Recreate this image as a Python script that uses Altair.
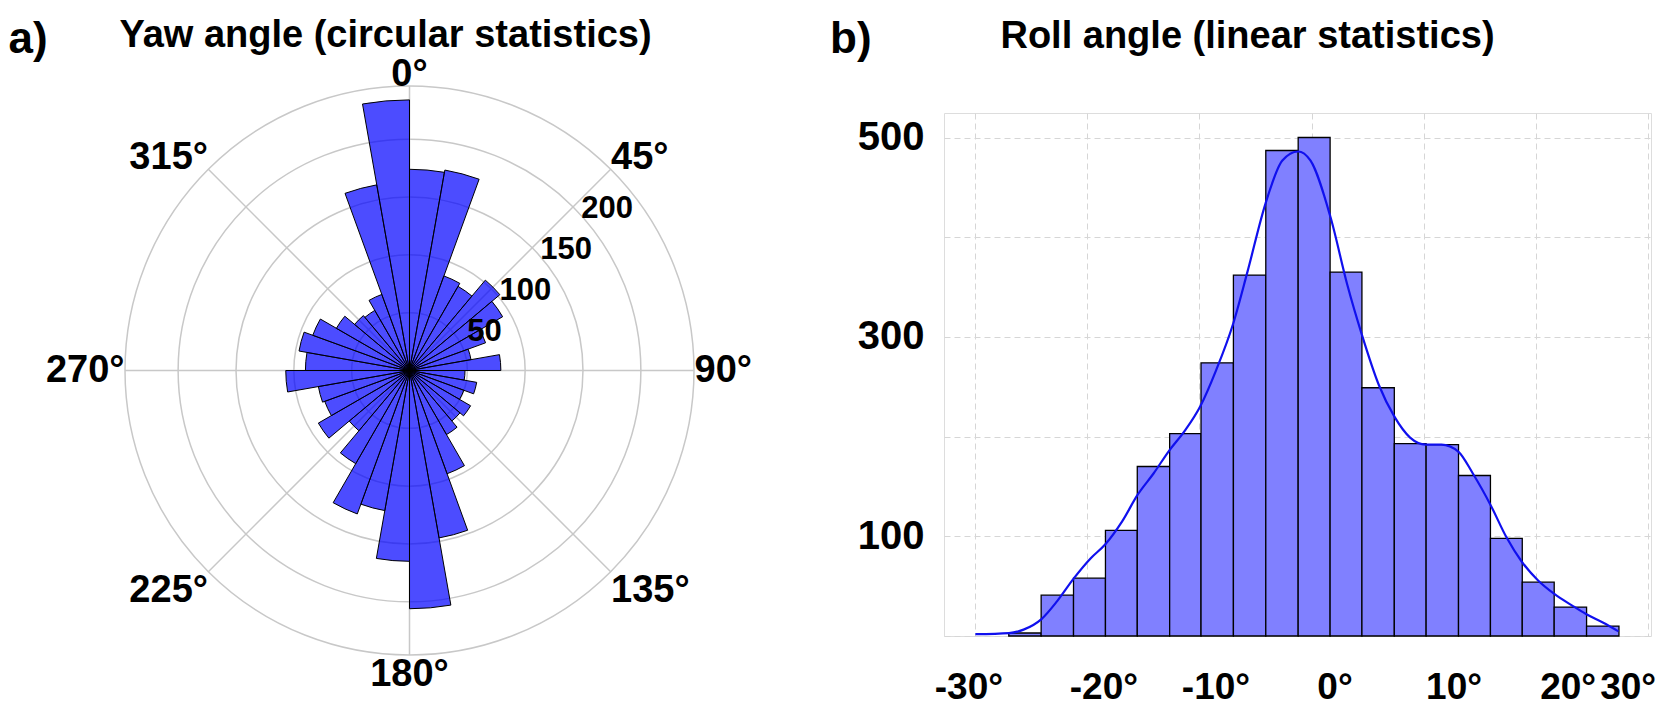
import math
import altair as alt
import pandas as pd

# ---------------- data: yaw angle (polar histogram, 10-degree bins) ----------------
YAW_BIN_START = [0, 10, 20, 30, 40, 50, 60, 70, 80,
                 90, 100, 110, 120, 130, 140, 150, 160, 170,
                 180, 190, 200, 210, 220, 230, 240, 250, 260,
                 270, 280, 290, 300, 310, 320, 330, 340, 350]
YAW_COUNTS = [174, 176, 87, 84, 102, 93, 70, 54, 79,
              48, 59, 50, 61, 57, 64, 95, 147, 206,
              165, 123, 132, 93, 68, 91, 78, 80, 107,
              90, 97, 89, 73, 62, 60, 70, 163, 234]
YAW_BIN_WIDTH = 10
RING_VALUES = [50, 100, 150, 200]
R_MAX = 246
ANGLE_TICKS = [0, 45, 90, 135, 180, 225, 270, 315]
ANGLE_LABELS = ["0°", "45°", "90°", "135°", "180°", "225°", "270°", "315°"]

# ---------------- data: roll angle (linear histogram + KDE) ----------------
ROLL_BIN_LO = [-27.02, -24.13, -21.24, -18.39, -15.55, -12.66, -9.86, -6.97, -4.08,
               -1.19, 1.66, 4.50, 7.39, 10.23, 13.12, 15.97, 18.81, 21.66, 24.55]
ROLL_BIN_HI = [-24.13, -21.24, -18.39, -15.55, -12.66, -9.86, -6.97, -4.08, -1.19,
               1.66, 4.50, 7.39, 10.23, 13.12, 15.97, 18.81, 21.66, 24.55, 27.44]
ROLL_COUNTS = [3, 41, 58, 106, 170, 203, 274, 362, 487,
               500, 365, 249, 193, 192, 161, 98, 54, 29, 10]
KDE_DEG = [-30.0, -27.0, -25.7, -24.1, -22.7, -21.2, -19.7, -18.4, -16.9, -15.5,
           -14.1, -12.7, -11.3, -9.9, -8.5, -7.0, -5.7, -4.1, -2.6, -1.2,
           -0.1, 1.7, 3.2, 4.5, 6.0, 7.4, 8.8, 10.2, 11.6, 13.1,
           14.4, 16.0, 17.4, 18.8, 20.2, 21.7, 23.2, 24.5, 26.0, 27.4]
KDE_VAL = [1.8, 2.9, 6.4, 17, 35, 58, 78, 92, 115, 142,
           163, 186, 206, 231, 267, 313, 366, 434, 477, 486,
           477, 420, 352, 302, 252, 220, 199, 192, 192, 185,
           163, 131, 99, 74, 56, 42, 31, 22, 13.5, 4.6]
ROLL_TICKS = [-30, -20, -10, 0, 10, 20, 30]
COUNT_GRID = [0, 100, 200, 300, 400, 500]

TITLE_A = "Yaw angle (circular statistics)"
TITLE_B = "Roll angle (linear statistics)"
LETTER_A = "a)"
LETTER_B = "b)"

# ---------------- layout / style constants ----------------
FONT = "Liberation Sans"
PLOT_W, PLOT_H = 707, 523
PAD = {"left": 936, "top": 105, "right": 6, "bottom": 77}
CX, CY = -534.5, 257.5          # polar centre relative to histogram plot origin
POLAR_R = 284.5
GRID_GRAY = "#c8c8c8"
# horizontal nudges of the roll-axis labels, as placed in the original figure
X_LABEL_NUDGE = {-30: -7, -20: 16, -10: 16, 0: 23, 10: 30, 20: 32, 30: 8}

theta_scale = alt.Scale(domain=[0, 360], range=[0, 2 * math.pi])
r_scale = alt.Scale(type="linear", domain=[0, R_MAX], range=[0, POLAR_R], zero=True, nice=False)

# ---------------- polar panel ----------------
rings_df = pd.DataFrame({"r": RING_VALUES + [R_MAX]})
rings_df["t0"] = 0
rings_df["t1"] = 360
rings = alt.Chart(rings_df).mark_arc(fill="white", fillOpacity=0, stroke=GRID_GRAY, strokeWidth=1.5).encode(
    theta=alt.Theta("t0:Q", scale=theta_scale),
    theta2="t1:Q",
    radius=alt.Radius("r:Q", scale=r_scale),
    x=alt.value(CX), y=alt.value(CY),
)

spokes_df = pd.DataFrame({"a": ANGLE_TICKS})
spokes_df["a2"] = spokes_df["a"]
spokes_df["r"] = R_MAX
spokes = alt.Chart(spokes_df).mark_arc(fill="white", fillOpacity=0, stroke=GRID_GRAY, strokeWidth=1.5).encode(
    theta=alt.Theta("a:Q", scale=theta_scale),
    theta2="a2:Q",
    radius=alt.Radius("r:Q", scale=r_scale),
    x=alt.value(CX), y=alt.value(CY),
)

yaw_df = pd.DataFrame({"t0": YAW_BIN_START, "n": YAW_COUNTS})
yaw_df["t1"] = yaw_df["t0"] + YAW_BIN_WIDTH
yaw_bars = alt.Chart(yaw_df).mark_arc(fill="#0000ff", fillOpacity=0.7, stroke="black", strokeWidth=1).encode(
    theta=alt.Theta("t0:Q", scale=theta_scale),
    theta2="t1:Q",
    radius=alt.Radius("n:Q", scale=r_scale),
    x=alt.value(CX), y=alt.value(CY),
)

ring_lab_df = pd.DataFrame({"r": RING_VALUES, "label": [str(v) for v in RING_VALUES]})
ring_lab_df["t"] = 45
ring_labels = alt.Chart(ring_lab_df).mark_text(
    font=FONT, fontSize=31, fontWeight="bold", color="black", align="center", baseline="middle", dx=34, dy=2
).encode(
    theta=alt.Theta("t:Q", scale=theta_scale),
    radius=alt.Radius("r:Q", scale=r_scale),
    text="label:N",
    x=alt.value(CX), y=alt.value(CY),
)

angle_layers = []
for ang, lab in zip(ANGLE_TICKS, ANGLE_LABELS):
    s, c = math.sin(math.radians(ang)), math.cos(math.radians(ang))
    align = "left" if s > 0.3 else ("right" if s < -0.3 else "center")
    baseline = "alphabetic" if c > 0.3 else ("top" if c < -0.3 else "middle")
    d = pd.DataFrame({"t": [ang], "label": [lab]})
    angle_layers.append(
        alt.Chart(d).mark_text(font=FONT, fontSize=38, fontWeight="bold", color="black",
                               align=align, baseline=baseline).encode(
            theta=alt.Theta("t:Q", scale=theta_scale),
            radius=alt.value(285),
            text="label:N",
            x=alt.value(CX), y=alt.value(CY),
        )
    )

# ---------------- roll histogram panel ----------------
xs = alt.Scale(domain=[-32.8, 30.3], nice=False, zero=False)
ys = alt.Scale(domain=[0, 524.6], nice=False, zero=True)

x_axis = alt.Axis(
    values=ROLL_TICKS, labelExpr="datum.value + '°'", title=None,
    grid=True, gridDash=[6, 4], gridColor="#d6d6d6", gridWidth=1,
    ticks=False, domain=False, labelFont=FONT, labelFontSize=37, labelFontWeight="bold",
    labelColor="black", labelPadding=33, labelOverlap=False,
    labelAlign={"condition": {"test": "datum.value == 30", "value": "right"}, "value": "center"},
    labelOffset={
        "condition": [{"test": f"datum.value == {k}", "value": v} for k, v in X_LABEL_NUDGE.items()],
        "value": 0,
    },
)
y_axis = alt.Axis(
    values=COUNT_GRID,
    labelExpr="(datum.value == 100 || datum.value == 300 || datum.value == 500) ? datum.label : ''",
    title=None, grid=True, gridDash=[6, 4], gridColor="#d6d6d6", gridWidth=1,
    ticks=False, domain=False, labelFont=FONT, labelFontSize=40, labelFontWeight="bold",
    labelColor="black", labelPadding=20, labelOverlap=False,
)

hist_df = pd.DataFrame({"lo": ROLL_BIN_LO, "hi": ROLL_BIN_HI, "n": ROLL_COUNTS})
hist_df["base"] = 0
hist = alt.Chart(hist_df).mark_rect(fill="#8080ff", stroke="black", strokeWidth=1.3).encode(
    x=alt.X("lo:Q", scale=xs, axis=x_axis),
    x2="hi:Q",
    y=alt.Y("n:Q", scale=ys, axis=y_axis),
    y2="base:Q",
)

kde_df = pd.DataFrame({"deg": KDE_DEG, "v": KDE_VAL})
kde = alt.Chart(kde_df).mark_line(color="#1010ee", strokeWidth=2.2, interpolate="monotone").encode(
    x=alt.X("deg:Q", scale=xs),
    y=alt.Y("v:Q", scale=ys),
)

# ---------------- titles ----------------
def text_layer(txt, x, y, size, align):
    return alt.Chart(pd.DataFrame({"t": [txt]})).mark_text(
        font=FONT, fontSize=size, fontWeight="bold", color="black", align=align, baseline="middle"
    ).encode(text="t:N", x=alt.value(x), y=alt.value(y))

titles = [
    text_layer(LETTER_A, -935.5, -73.5, 44, "left"),
    text_layer(TITLE_A, -558.5, -77.5, 38, "center"),
    text_layer(LETTER_B, -114, -73.5, 44, "left"),
    text_layer(TITLE_B, 303.5, -76.5, 38, "center"),
]

chart = alt.layer(
    rings, spokes, yaw_bars, ring_labels, *angle_layers, hist, kde, *titles
).properties(
    width=PLOT_W, height=PLOT_H,
    autosize=alt.AutoSizeParams(type="none"),
    padding=PAD,
).configure_view(stroke=GRID_GRAY, strokeWidth=2).configure(font=FONT)

chart.save("out.html", embed_options={"renderer": "svg", "actions": False})
